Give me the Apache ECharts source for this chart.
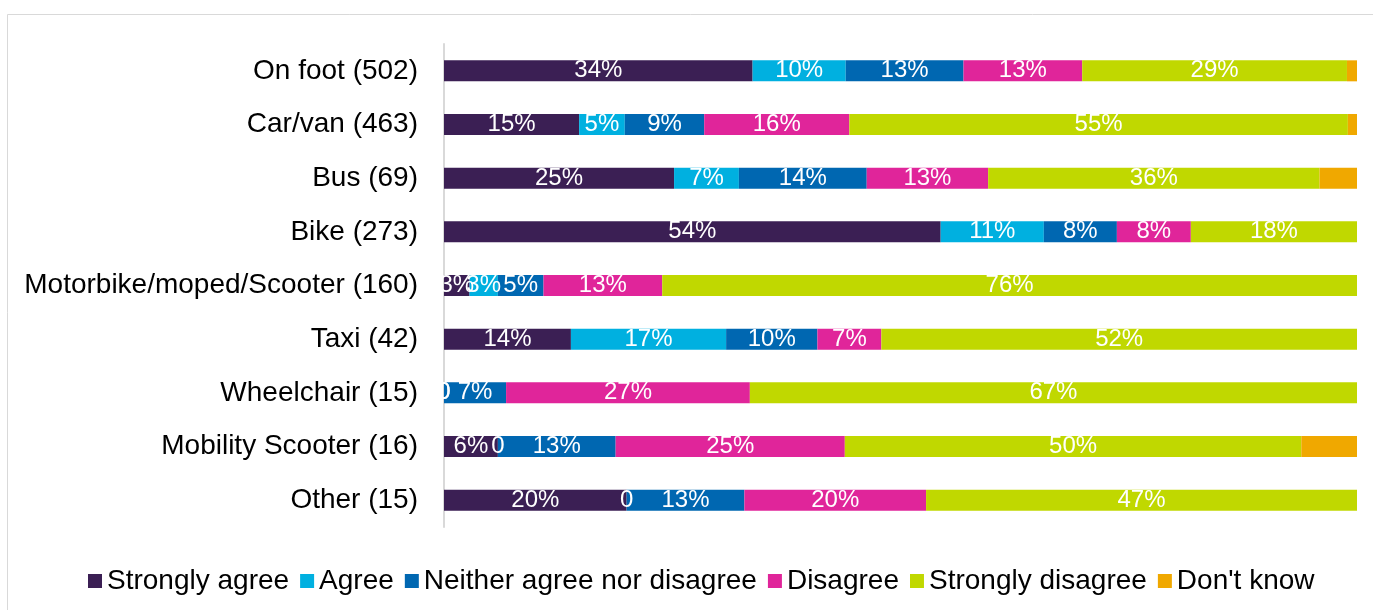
<!DOCTYPE html>
<html lang="en">

<head>
    <meta charset="UTF-8">
    <title>Mode of travel agreement</title>
    <script src="https://cdn.jsdelivr.net/npm/echarts@6/dist/echarts.min.js"></script>
    <style>
        body { margin: 0; background: #fff; }
    </style>
</head>

<body>
    <div id="main" style="height:610px; width:1373px"></div>
    <script>
        var categories = ['On foot (502)', 'Car/van (463)', 'Bus (69)', 'Bike (273)', 'Motorbike/moped/Scooter (160)',
            'Taxi (42)', 'Wheelchair (15)', 'Mobility Scooter (16)', 'Other (15)']
        // percentages per row, top to bottom
        var stronglyAgree = [33.8, 14.8, 25.2, 54.4, 2.8, 13.9, 0, 5.9, 20]
        var agree = [10.2, 5.0, 7.1, 11.3, 3.1, 17.0, 0, 0, 0]
        var neither = [12.9, 8.7, 14.0, 8.0, 5.0, 10.0, 6.8, 12.9, 12.9]
        var disagree = [13.0, 15.9, 13.3, 8.1, 13.0, 7.0, 26.7, 25.1, 19.9]
        var stronglyDisagree = [29.0, 54.6, 36.3, 18.2, 76.1, 52.1, 66.5, 50.0, 47.2]
        var dontKnow = [1.1, 1.0, 4.1, 0, 0, 0, 0, 6.1, 0]

        var names = ['Strongly agree', 'Agree', 'Neither agree nor disagree', 'Disagree', 'Strongly disagree', "Don't know"]
        var colors = ['#3b1f54', '#00b0e0', '#0067b1', '#e0259a', '#c0d800', '#f0a800']
        var values = [stronglyAgree, agree, neither, disagree, stronglyDisagree, dontKnow]

        var font = 'Liberation Sans, Arial, sans-serif'

        var series = []
        for (var i = 0; i < names.length; i++) {
            series.push({
                name: names[i],
                type: 'bar',
                stack: 'total',
                barWidth: 21,
                data: values[i],
                itemStyle: { color: colors[i] },
                label: {
                    //don't know has no labels
                    show: i < 5,
                    position: 'inside',
                    color: '#fff',
                    fontSize: 24,
                    fontFamily: font,
                    formatter: function(p) {
                        if (p.value === 0) {
                            return '0'
                        }
                        return Math.round(p.value) + '%'
                    }
                }
            })
        }

        var myCharts = echarts.init(document.getElementById('main'))
        var option = {
            animation: false,
            backgroundColor: '#fff',
            grid: { left: 444, right: 16, top: 44, bottom: 83 },
            xAxis: {
                type: 'value',
                min: 0,
                max: 100,
                show: false
            },
            yAxis: {
                type: 'category',
                inverse: true,
                data: categories,
                axisLine: { lineStyle: { color: '#d9d9d9', width: 2 } },
                axisTick: { show: false },
                axisLabel: { color: '#000', fontSize: 28, fontFamily: font, margin: 26 }
            },
            legend: {
                bottom: 10,
                left: 83,
                itemWidth: 14,
                itemHeight: 14,
                itemGap: 11,
                icon: 'rect',
                textStyle: { color: '#000', fontSize: 28, fontFamily: font },
                data: names
            },
            graphic: [{
                type: 'rect',
                shape: { x: 7.5, y: 14.5, width: 1400, height: 700 },
                style: { fill: 'none', stroke: '#d9d9d9', lineWidth: 1 },
                silent: true
            }],
            series: series
        }
        myCharts.setOption(option)
    </script>
</body>

</html>
